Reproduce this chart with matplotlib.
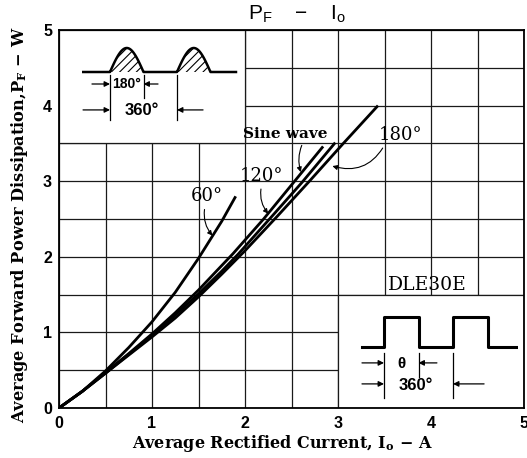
import matplotlib
matplotlib.use('Agg')
import matplotlib.pyplot as plt
import numpy as np
from matplotlib.patches import Rectangle

# ---------------- data ----------------
x_60 = [0, 0.25, 0.5, 0.75, 1.0, 1.25, 1.5, 1.75, 1.9]
y_60 = [0, 0.22, 0.49, 0.80, 1.14, 1.53, 1.98, 2.47, 2.8]

x_120 = [0, 0.25, 0.5, 0.75, 1.0, 1.25, 1.5, 1.7, 1.87, 2.2, 2.52, 2.84]
y_120 = [0, 0.22, 0.47, 0.72, 0.98, 1.26, 1.56, 1.82, 2.04, 2.5, 2.98, 3.46]

x_sine = [0, 0.25, 0.5, 0.75, 1.0, 1.25, 1.5, 1.75, 1.93, 2.3, 2.61, 2.97]
y_sine = [0, 0.22, 0.46, 0.71, 0.96, 1.23, 1.51, 1.81, 2.04, 2.55, 2.98, 3.51]

x_180 = [0, 0.25, 0.5, 0.75, 1.0, 1.25, 1.5, 1.75, 2.0, 2.35, 2.7, 3.05, 3.43]
y_180 = [0, 0.22, 0.46, 0.70, 0.94, 1.19, 1.47, 1.77, 2.08, 2.54, 3.01, 3.49, 4.0]

x_ticks = [0, 1, 2, 3, 4, 5]
y_ticks = [0, 1, 2, 3, 4, 5]

title = 'P$_\\mathregular{F}$    \u2212    I$_\\mathregular{o}$'
xlabel = 'Average Rectified Current, I$_\\mathregular{o}$ \u2212 A'
ylabel = 'Average Forward Power Dissipation,P$_\\mathregular{F}$ \u2212 W'

# ---------------- figure ----------------
W, H = 527, 458
fig = plt.figure(figsize=(W / 100, H / 100), dpi=100)
fig.patch.set_facecolor('white')


def px_axes(l, t, r, b, **kw):
    return fig.add_axes([l / W, 1 - b / H, (r - l) / W, (b - t) / H], **kw)


ax = px_axes(59, 30, 524, 408)
ax.set_xlim(0, 5)
ax.set_ylim(0, 5)
ax.set_xticks(x_ticks)
ax.set_yticks(y_ticks)
ax.set_xticks(np.arange(0, 5.01, 0.5), minor=True)
ax.set_yticks(np.arange(0, 5.01, 0.5), minor=True)
ax.set_axisbelow(True)
ax.grid(which='both', color='#1a1a1a', lw=0.9)
ax.tick_params(which='both', length=0)
ax.tick_params(axis='x', pad=6)
ax.tick_params(axis='y', pad=5)
for lab in ax.get_xticklabels() + ax.get_yticklabels():
    lab.set_fontfamily('Liberation Sans')
    lab.set_fontweight('bold')
    lab.set_fontsize(11.5)
for s in ax.spines.values():
    s.set_linewidth(1.3)

# white inset boxes
ax.add_patch(Rectangle((0, 3.5), 2, 1.5, fc='white', ec='#1a1a1a', lw=0.9, zorder=1))
ax.add_patch(Rectangle((3, 0), 2, 1.5, fc='white', ec='#1a1a1a', lw=0.9, zorder=1))

lw = 2.0
for xs, ys in [(x_60, y_60), (x_120, y_120), (x_sine, y_sine), (x_180, y_180)]:
    ax.plot(xs, ys, color='black', lw=lw, zorder=3, solid_capstyle='butt')

serif = 'DejaVu Serif'
ap = dict(arrowstyle='-|>', lw=0.8, color='black', mutation_scale=7, shrinkA=1, shrinkB=0)

ax.annotate('60°', xy=(1.65, 2.28), xytext=(1.59, 2.80), ha='center', va='center',
            fontfamily=serif, fontsize=13,
            arrowprops=dict(ap, relpos=(0.45, 0), connectionstyle='arc3,rad=0.25'), zorder=4)
ax.annotate('120°', xy=(2.25, 2.57), xytext=(2.18, 3.07), ha='center', va='center',
            fontfamily=serif, fontsize=13,
            arrowprops=dict(ap, relpos=(0.5, 0), connectionstyle='arc3,rad=0.25'), zorder=4)
ax.annotate('Sine wave', xy=(2.6, 3.12), xytext=(2.43, 3.62), ha='center', va='center',
            fontfamily=serif, fontsize=11, fontweight='bold',
            arrowprops=dict(ap, relpos=(0.72, 0), connectionstyle='arc3,rad=0.2'), zorder=4)
ax.annotate('180°', xy=(2.94, 3.2), xytext=(3.67, 3.61), ha='center', va='center',
            fontfamily=serif, fontsize=13,
            arrowprops=dict(ap, relpos=(0.15, 0), connectionstyle='arc3,rad=-0.4'), zorder=4)
ax.text(3.96, 1.63, 'DLE30E', ha='center', va='center', fontfamily=serif, fontsize=13.5, zorder=4)

# titles / labels
fig.text(297 / W, 1 - 14 / H, title, ha='center', va='center',
         fontfamily='Liberation Sans', fontsize=15)
fig.text(282 / W, 1 - 443 / H, xlabel, ha='center', va='center',
         fontfamily=serif, fontweight='bold', fontsize=11.5)
fig.text(20 / W, 1 - 225 / H, ylabel, ha='center', va='center', rotation=90,
         fontfamily=serif, fontweight='bold', fontsize=11.7)

# ---------------- inset: half-sine waveform (top-left) ----------------
plt.rcParams['hatch.linewidth'] = 0.8
ia = px_axes(82.1, 38.4, 238.4, 124.8)
ia.set_xlim(-150, 690)
ia.set_ylim(-2.2, 1.4)
ia.axis('off')
ia.patch.set_alpha(0)
t = np.linspace(0, 180, 61)
hs = np.sin(np.radians(t))
wx = np.concatenate([[-145], t, t + 360, [677]])
wy = np.concatenate([[0], hs, hs, [0]])
ia.plot(wx, wy, color='black', lw=1.8)
for off in (0, 360):
    ia.fill_between(t + off, 0, hs, facecolor='none', edgecolor='black', hatch='////', lw=0)
ia.plot([0, 0], [-0.12, -2.0], color='black', lw=0.9)
ia.plot([180, 180], [-0.12, -1.1], color='black', lw=0.9)
ia.plot([360, 360], [-0.12, -2.0], color='black', lw=0.9)
iap = dict(arrowstyle='-|>', lw=0.9, color='black', mutation_scale=8, shrinkA=0, shrinkB=0)
ia.annotate('', xy=(0, -0.5), xytext=(-97, -0.5), arrowprops=iap)
ia.annotate('', xy=(180, -0.5), xytext=(258, -0.5), arrowprops=iap)
ia.annotate('', xy=(0, -1.58), xytext=(-145, -1.58), arrowprops=iap)
ia.annotate('', xy=(360, -1.58), xytext=(500, -1.58), arrowprops=iap)
ia.text(90, -0.5, '180°', ha='center', va='center', fontfamily='Liberation Sans',
        fontweight='bold', fontsize=10)
ia.text(172, -1.62, '360°', ha='center', va='center', fontfamily='Liberation Sans',
        fontweight='bold', fontsize=12)

# ---------------- inset: rectangular waveform (bottom-right) ----------------
ib = px_axes(359.1, 308, 518.2, 404)
ib.set_xlim(-130, 700)
ib.set_ylim(-1.9, 1.3)
ib.axis('off')
ib.patch.set_alpha(0)
ib.plot([-115, 0, 0, 180, 180, 360, 360, 540, 540, 689],
        [0, 0, 1, 1, 0, 0, 1, 1, 0, 0], color='black', lw=2.2)
ib.plot([0, 0], [-0.2, -1.7], color='black', lw=0.9)
ib.plot([180, 180], [-0.2, -1.0], color='black', lw=0.9)
ib.plot([360, 360], [-0.2, -1.7], color='black', lw=0.9)
ib.annotate('', xy=(0, -0.53), xytext=(-115, -0.53), arrowprops=iap)
ib.annotate('', xy=(180, -0.53), xytext=(276, -0.53), arrowprops=iap)
ib.annotate('', xy=(0, -1.23), xytext=(-115, -1.23), arrowprops=iap)
ib.annotate('', xy=(360, -1.23), xytext=(522, -1.23), arrowprops=iap)
ib.text(90, -0.55, '\u03b8', ha='center', va='center', fontfamily='Liberation Sans',
        fontweight='bold', fontsize=11)
ib.text(167, -1.27, '360°', ha='center', va='center', fontfamily='Liberation Sans',
        fontweight='bold', fontsize=12)

fig.savefig('out.png', dpi=100)
